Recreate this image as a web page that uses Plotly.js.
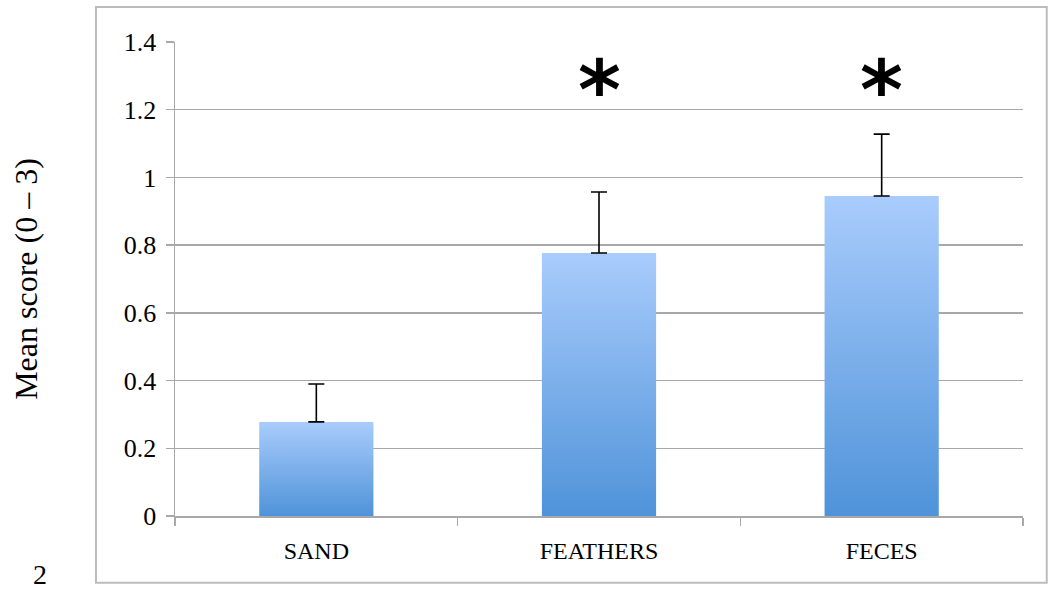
<!DOCTYPE html>
<html>
<head>
<meta charset="utf-8">
<script src="https://cdn.plot.ly/plotly-3.0.1.min.js"></script>
<style>html,body{margin:0;padding:0;background:#fff;}#chart{width:1048px;height:590px;}</style>
</head>
<body>
<div id="chart"></div>
<script>
// ---- data ----
const categories = ['SAND', 'FEATHERS', 'FECES'];
const meanScores = [0.278, 0.777, 0.945];
const errorPlus = [0.112, 0.180, 0.183];
const significance = ['', '*', '*'];
const yTicks = [0, 0.2, 0.4, 0.6, 0.8, 1, 1.2, 1.4];
const pageNumber = '2';

// ---- styling ----
const FONT = 'Liberation Serif, DejaVu Serif, serif';
const barWidth = 0.404;
const gridColor = '#a8a8a8';

const traces = [];
const idx = categories.map((c, i) => i);

// gradient-filled bars built from the data
categories.forEach((cat, i) => {
  const v = meanScores[i];
  traces.push({
    type: 'scatter',
    mode: 'lines',
    x: [i - barWidth / 2, i + barWidth / 2, i + barWidth / 2, i - barWidth / 2, i - barWidth / 2],
    y: [0, 0, v, v, 0],
    fill: 'toself',
    fillgradient: {
      type: 'vertical',
      colorscale: [[0, '#4f93d9'], [1, '#a9ccfc']]
    },
    line: {width: 0, color: 'rgba(0,0,0,0)'},
    hoverinfo: 'skip',
    showlegend: false,
    name: cat
  });
});

// error bars (upper only)
traces.push({
  type: 'scatter',
  mode: 'markers',
  x: idx,
  y: meanScores,
  marker: {size: 1, color: 'rgba(0,0,0,0)'},
  error_y: {
    type: 'data',
    symmetric: false,
    array: errorPlus,
    arrayminus: errorPlus.map(() => 0),
    color: '#000000',
    thickness: 1.6,
    width: 8
  },
  showlegend: false,
  hoverinfo: 'skip'
});

// dummy trace on xaxis2 to carry category labels
traces.push({
  type: 'scatter', mode: 'markers', x: idx, y: meanScores,
  xaxis: 'x2', marker: {size: 1, color: 'rgba(0,0,0,0)'},
  showlegend: false, hoverinfo: 'skip'
});

const annotations = [];
significance.forEach((s, i) => {
  if (s) {
    annotations.push({
      x: i, y: 1.2, xref: 'x', yref: 'y', text: '<b>' + s + '</b>', showarrow: false,
      yanchor: 'bottom', yshift: -30,
      font: {family: 'DejaVu Sans', size: 82, color: '#000'}
    });
  }
});
annotations.push({
  x: -0.159, y: -0.124, xref: 'paper', yref: 'paper', text: pageNumber,
  showarrow: false, xanchor: 'center', yanchor: 'middle',
  font: {family: FONT, size: 28, color: '#000'}
});

const layout = {
  width: 1048, height: 590,
  margin: {l: 175, r: 25, t: 42, b: 74},
  paper_bgcolor: '#ffffff', plot_bgcolor: '#ffffff',
  font: {family: FONT, color: '#000'},
  showlegend: false,
  xaxis: {
    range: [-0.5, 2.5],
    tickvals: [-0.5, 0.5, 1.5, 2.5],
    ticktext: ['', '', '', ''],
    ticks: 'outside', ticklen: 8, tickwidth: 1.5, tickcolor: gridColor,
    showline: true, linecolor: gridColor, linewidth: 1.5,
    showgrid: false, zeroline: false, fixedrange: true
  },
  xaxis2: {
    overlaying: 'x', matches: 'x', range: [-0.5, 2.5],
    tickvals: idx, ticktext: categories,
    ticks: '', showline: false, showgrid: false, zeroline: false,
    side: 'bottom', ticklabelstandoff: 18,
    tickfont: {family: FONT, size: 24, color: '#000'}
  },
  yaxis: {
    range: [0, 1.4],
    tickvals: yTicks,
    ticks: 'outside', ticklen: 8, tickwidth: 1.5, tickcolor: gridColor,
    tickfont: {family: FONT, size: 26, color: '#000'},
    ticklabelstandoff: 4,
    showline: true, linecolor: gridColor, linewidth: 1.5,
    showgrid: true, gridcolor: gridColor, gridwidth: 1.5,
    zeroline: false,
    title: {text: 'Mean score (0 – 3)', font: {family: FONT, size: 32, color: '#000'}, standoff: 76}
  },
  shapes: [{
    type: 'rect', xref: 'paper', yref: 'paper',
    x0: -0.0932, x1: 1.028, y0: -0.141, y1: 1.074,
    line: {color: '#bcbcbc', width: 2}, layer: 'below'
  }],
  annotations: annotations
};

Plotly.newPlot('chart', traces, layout, {displayModeBar: false, staticPlot: true});
</script>
</body>
</html>
